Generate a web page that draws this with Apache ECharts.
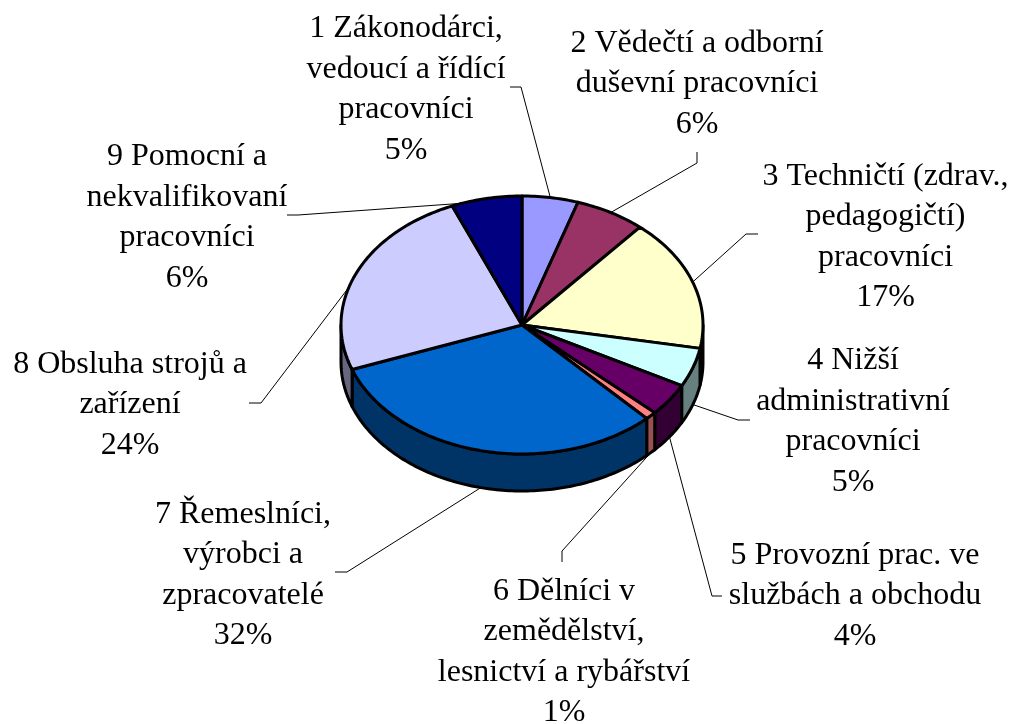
<!DOCTYPE html>
<html>
<head>
<meta charset="utf-8">
<title>Zaměstnání</title>
<script src="https://cdn.jsdelivr.net/npm/echarts@6/dist/echarts.min.js"></script>
<style>
  html, body { margin: 0; padding: 0; background: #fff; }
  #chart { width: 1012px; height: 724px; }
</style>
</head>
<body>
<div id="chart"></div>
<script>
// shares in percent
var shareValues = [5.0, 6.3, 16.6, 4.9, 4.1, 1.0, 31.5, 24.3, 6.3];
var labelNames = [
  '1 Zákonodárci,\nvedoucí a řídící\npracovníci',
  '2 Vědečtí a odborní\nduševní pracovníci',
  '3 Techničtí (zdrav.,\npedagogičtí)\npracovníci',
  '4 Nižší\nadministrativní\npracovníci',
  '5 Provozní prac. ve\nslužbách a obchodu',
  '6 Dělníci v\nzemědělství,\nlesnictví a rybářství',
  '7 Řemeslníci,\nvýrobci a\nzpracovatelé',
  '8 Obsluha strojů a\nzařízení',
  '9 Pomocní a\nnekvalifikovaní\npracovníci'
];
var topColors = ['#9999ff', '#993366', '#ffffcc', '#ccffff', '#660066', '#ff8080', '#0066cc', '#ccccff', '#000080'];
var wallColors = ['#4d4d80', '#4d1a33', '#808066', '#668080', '#330033', '#995050', '#003366', '#666680', '#000040'];

// tilted disc
var cx = 522, cy = 325, rx = 181, ry = 129, depth = 37;

// label centres and the elbow of each leader line
var labelPos = [[406, 89.5], [697, 84], [885.5, 237], [853, 421.5], [855, 596], [564, 652], [243, 575], [130, 405], [187, 217.5]];
var leaderTail = [
  [[510, 87], [521, 87]],
  [[697, 152], [697, 163]],
  [[758, 234], [746, 234]],
  [[750, 420], [738, 420]],
  [[722, 596], [712, 596]],
  [[562, 562], [562, 551]],
  [[335, 572], [347, 572]],
  [[249, 403], [261, 403]],
  [[287, 215], [298, 215]]
];
// the leaders of the two left slices do not start at the exact middle
var leaderShift = [0, 0, 0, 0, 0, 0, 0, -6.5, -8];

var total = shareValues.reduce(function (a, b) { return a + b; }, 0);
var startAngles = [];
shareValues.reduce(function (sum, v, i) {
  startAngles[i] = sum / total * 360;
  return sum + v;
}, 0);

function rimPoint(deg, drop) {
  var t = deg * Math.PI / 180;
  return [cx + rx * Math.sin(t), cy - ry * Math.cos(t) + (drop || 0)];
}

function arcPoints(from, to, drop) {
  var pts = [];
  var steps = Math.max(2, Math.ceil(Math.abs(to - from)));
  for (var i = 0; i <= steps; i++) {
    pts.push(rimPoint(from + (to - from) * i / steps, drop));
  }
  return pts;
}

function renderWall(params) {
  var i = params.dataIndex;
  var from = Math.max(startAngles[i], 90);
  var to = Math.min(startAngles[i] + shareValues[i] / total * 360, 270);
  if (to <= from) return { type: 'group', children: [] };
  var pts = arcPoints(from, to, 0).concat(arcPoints(to, from, depth));
  return {
    type: 'polygon',
    shape: { points: pts },
    style: { fill: wallColors[i], stroke: '#000', lineWidth: 3, lineJoin: 'round' }
  };
}

function renderTop(params) {
  var i = params.dataIndex;
  var from = startAngles[i];
  var to = from + shareValues[i] / total * 360;
  var pts = [[cx, cy]].concat(arcPoints(from, to, 0));
  return {
    type: 'polygon',
    shape: { points: pts },
    style: { fill: topColors[i], stroke: '#000', lineWidth: 3, lineJoin: 'round' }
  };
}

function renderLabel(params) {
  var i = params.dataIndex;
  var mid = startAngles[i] + shareValues[i] / total * 180 + leaderShift[i];
  var isFront = mid > 90 && mid < 270;
  var end = rimPoint(mid, isFront ? depth : 0);
  return {
    type: 'group',
    children: [
      {
        type: 'polyline',
        shape: { points: leaderTail[i].concat([end]) },
        style: { fill: null, stroke: '#000', lineWidth: 1 }
      },
      {
        type: 'text',
        style: {
          text: labelNames[i] + '\n' + Math.round(shareValues[i] / total * 100) + '%',
          x: labelPos[i][0],
          y: labelPos[i][1],
          align: 'center',
          verticalAlign: 'middle',
          fontFamily: '"Liberation Serif", serif',
          fontSize: 32,
          lineHeight: 40.4,
          fill: '#000'
        }
      }
    ]
  };
}

var chart = echarts.init(document.getElementById('chart'), null, { renderer: 'canvas' });
chart.setOption({
  backgroundColor: '#fff',
  animation: false,
  series: [
    { type: 'custom', coordinateSystem: 'none', z: 1, silent: true, data: shareValues, renderItem: renderWall },
    { type: 'custom', coordinateSystem: 'none', z: 2, silent: true, data: shareValues, renderItem: renderTop },
    { type: 'custom', coordinateSystem: 'none', z: 3, silent: true, data: shareValues, renderItem: renderLabel }
  ]
});
</script>
</body>
</html>
